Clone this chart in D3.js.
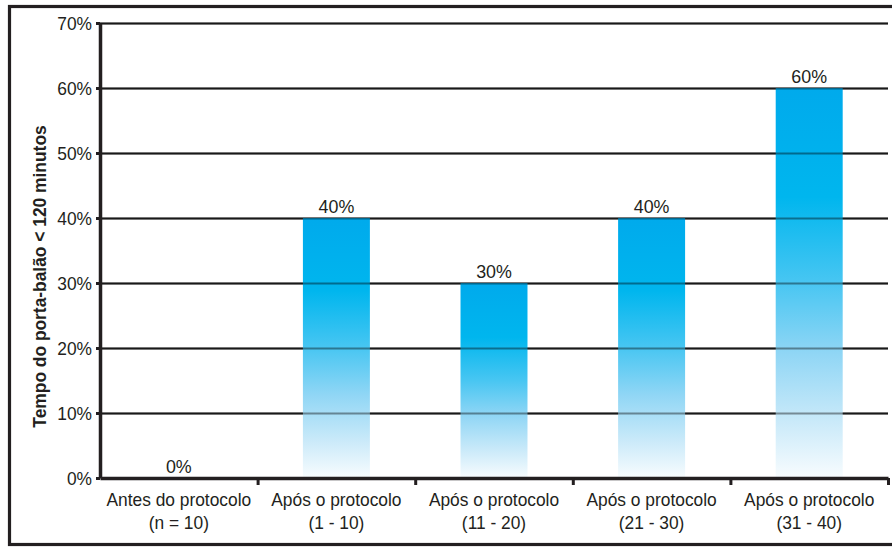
<!DOCTYPE html>
<html>
<head>
<meta charset="utf-8">
<script src="https://cdn.jsdelivr.net/npm/d3@7/dist/d3.min.js"></script>
<style>
  html, body { margin: 0; padding: 0; background: #fff; }
  svg { display: block; }
  text { font-family: "Liberation Sans", Arial, Helvetica, sans-serif; fill: #231f20; }
</style>
</head>
<body>
<svg id="chart" width="892" height="547"></svg>
<script>
// Share of cases with door-to-balloon time under 120 minutes
const categories = ["Antes do protocolo", "Após o protocolo", "Após o protocolo", "Após o protocolo", "Após o protocolo"];
const subLabels  = ["(n = 10)", "(1 - 10)", "(11 - 20)", "(21 - 30)", "(31 - 40)"];
const values     = [0, 0.40, 0.30, 0.40, 0.60];
const yTicks     = [0, 0.1, 0.2, 0.3, 0.4, 0.5, 0.6, 0.7];
const yTitle     = "Tempo do porta-balão < 120 minutos";

const plot = { left: 100, right: 888, top: 23, bottom: 478 };
const squeeze = 0.965; // slightly condensed lettering

const svg = d3.select("#chart");

// outer frame
svg.append("rect")
  .attr("x", 9.5).attr("y", 6.5)
  .attr("width", 900).attr("height", 538)
  .attr("fill", "none").attr("stroke", "#231f20").attr("stroke-width", 3.2);

const idx = categories.map((_, i) => i);
const x = d3.scaleBand().domain(idx).range([plot.left, plot.right]).padding(0);
const xEdge = d3.scaleLinear().domain([0, categories.length]).range([plot.left, plot.right]);
const y = d3.scaleLinear().domain([0, 0.7]).range([plot.bottom, plot.top]);
const barW = x.bandwidth() * 0.425;

// gradient for the bars
const defs = svg.append("defs");
const grad = defs.append("linearGradient")
  .attr("id", "barFill").attr("x1", 0).attr("y1", 0).attr("x2", 0).attr("y2", 1);
[
  [0.00, "#00aaec"],
  [0.28, "#00b6ee"],
  [0.50, "#48c6f2"],
  [0.68, "#90d6f5"],
  [0.85, "#c8e9f9"],
  [1.00, "#f8fcfe"]
].forEach(([o, c]) => grad.append("stop").attr("offset", o).attr("stop-color", c));

// horizontal gridlines
const gridAxis = d3.axisLeft(y).tickValues(yTicks.slice(1))
  .tickSize(-(plot.right - plot.left)).tickFormat("");
const grid = svg.append("g").attr("transform", `translate(${plot.left},0)`).call(gridAxis);
grid.select(".domain").remove();
grid.selectAll(".tick line").attr("stroke", "#2b2b2b").attr("stroke-width", 2);

// bars
svg.append("g").selectAll("rect")
  .data(values)
  .join("rect")
  .attr("x", (d, i) => x(i) + (x.bandwidth() - barW) / 2)
  .attr("y", d => y(d))
  .attr("width", barW)
  .attr("height", d => y(0) - y(d))
  .attr("fill", "url(#barFill)");

// gridlines again, faintly over the bars
const over = svg.append("g").attr("transform", `translate(${plot.left},0)`).call(gridAxis);
over.select(".domain").remove();
over.selectAll(".tick line").attr("stroke", "#000").attr("stroke-opacity", 0.4).attr("stroke-width", 2);

// value labels
svg.append("g").selectAll("text")
  .data(values)
  .join("text")
  .attr("transform", (d, i) => `translate(${x(i) + x.bandwidth() / 2},${y(d) - 5}) scale(${squeeze},1)`)
  .attr("text-anchor", "middle")
  .style("font-size", "18.5px")
  .text(d => d3.format(".0%")(d));

// y axis
const yAxis = d3.axisLeft(y).tickValues(yTicks).tickFormat(d3.format(".0%"))
  .tickSize(4).tickSizeOuter(0).tickPadding(5);
const gy = svg.append("g").attr("transform", `translate(${plot.left},0)`).call(yAxis);
gy.select(".domain").attr("stroke", "#231f20").attr("stroke-width", 3.5);
gy.selectAll(".tick line").attr("stroke", "#231f20").attr("stroke-width", 3);
gy.selectAll(".tick text")
  .attr("x", null).attr("dy", null)
  .attr("transform", `translate(-8,6.5) scale(${squeeze},1)`)
  .style("font-size", "18px").attr("fill", "#231f20");
gy.attr("font-family", null);

// x axis with separators between categories
const xAxis = d3.axisBottom(xEdge).tickValues(d3.range(1, categories.length + 1))
  .tickSize(7).tickSizeOuter(0).tickFormat("");
const gx = svg.append("g").attr("transform", `translate(0,${plot.bottom})`).call(xAxis);
gx.select(".domain").attr("stroke", "#231f20").attr("stroke-width", 3.5);
gx.selectAll(".tick line").attr("stroke", "#231f20").attr("stroke-width", 3);

// category labels (two lines)
const cat = svg.append("g").selectAll("g")
  .data(idx)
  .join("g")
  .attr("transform", i => `translate(${x(i) + x.bandwidth() / 2},0)`);
cat.append("text")
  .attr("transform", `translate(0,506) scale(${squeeze},1)`)
  .attr("text-anchor", "middle").style("font-size", "18px")
  .text(i => categories[i]);
cat.append("text")
  .attr("transform", `translate(0,529) scale(${squeeze},1)`)
  .attr("text-anchor", "middle").style("font-size", "18px")
  .text(i => subLabels[i]);

// y axis title
svg.append("text")
  .attr("transform", `translate(46,${(125 + 428) / 2}) rotate(-90) scale(0.94,1)`)
  .attr("text-anchor", "middle")
  .style("font-size", "18.5px").style("font-weight", "bold")
  .text(yTitle);
</script>
</body>
</html>
